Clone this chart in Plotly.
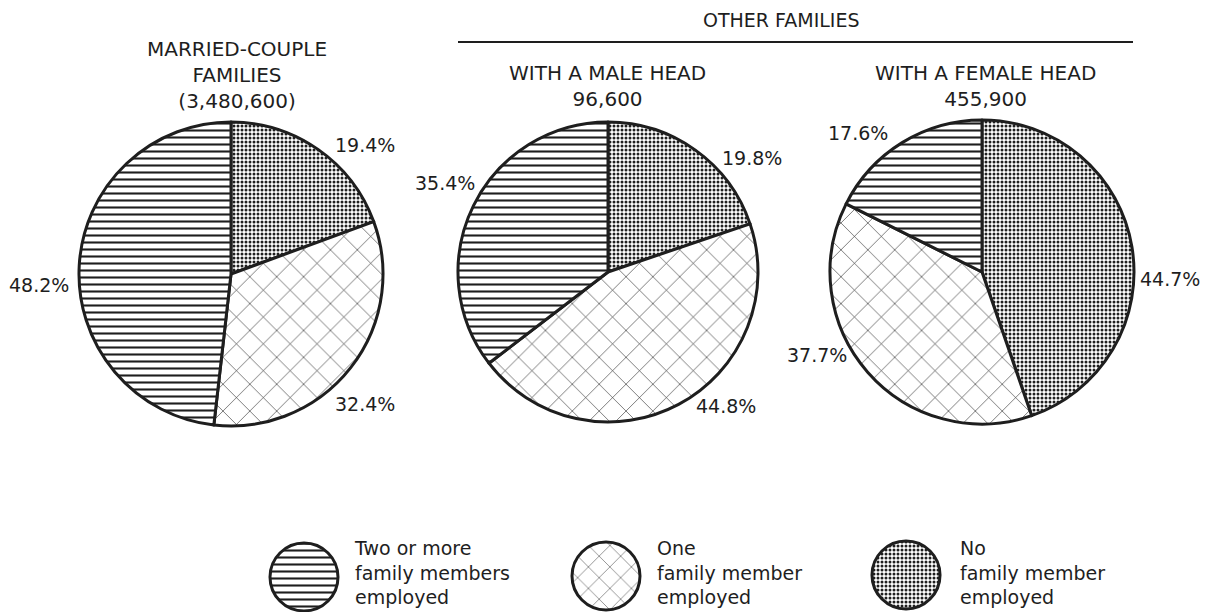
import plotly.graph_objects as go

# ---------------- data ----------------
group_titles = ["MARRIED-COUPLE<br>FAMILIES<br>(3,480,600)",
                "WITH A MALE HEAD<br>96,600",
                "WITH A FEMALE HEAD<br>455,900"]
header_text = "OTHER FAMILIES"
categories = ["No family member employed",
              "One family member employed",
              "Two or more family members employed"]
legend_labels = ["Two or more<br>family members<br>employed",
                 "One<br>family member<br>employed",
                 "No<br>family member<br>employed"]
pct_none = [19.4, 19.8, 44.7]
pct_one = [32.4, 44.8, 37.7]
pct_two_plus = [48.2, 35.4, 17.6]

# ---------------- styling / layout ----------------
W, H = 1212, 612
OFF = 8  # page body margin: screen pixel -> figure pixel
FONT = "DejaVu Sans"
INK = "#1e1e1e"
FS = 19

pattern_shape = {"No family member employed": ".",
                 "One family member employed": "x",
                 "Two or more family members employed": "-"}
pattern_size = {"No family member employed": 4,
                "One family member employed": 19,
                "Two or more family members employed": 7}
pattern_solid = {"No family member employed": 0.45,
                 "One family member employed": 0.06,
                 "Two or more family members employed": 0.3}


def px(x):
    return (x - OFF) / W


def py(y):
    return 1 - (y - OFF) / H


def dom(cx, cy, r):
    return dict(x=[px(cx - r), px(cx + r)], y=[py(cy + r), py(cy - r)])


pie_geom = [(231, 274, 152), (608, 272, 150), (982, 272, 152)]
# label anchor centres (screen px) for [none, one, two_plus] of each pie
label_pos = [
    [(365, 145), (365, 404), (39, 285)],
    [(752, 158), (726, 406), (445, 183)],
    [(1170, 279), (817, 355), (858, 133)],
]

fig = go.Figure()
for i, (cx, cy, r) in enumerate(pie_geom):
    vals = [pct_none[i], pct_one[i], pct_two_plus[i]]
    fig.add_trace(go.Pie(
        labels=categories,
        values=vals,
        sort=False,
        direction="clockwise",
        rotation=0,
        domain=dom(cx, cy, r),
        textinfo="none",
        marker=dict(
            colors=["white"] * 3,
            line=dict(color=INK, width=3),
            pattern=dict(
                shape=[pattern_shape[c] for c in categories],
                size=[pattern_size[c] for c in categories],
                solidity=[pattern_solid[c] for c in categories],
                fgcolor=INK,
                bgcolor="white",
                fillmode="replace",
            ),
        ),
        showlegend=False,
        hoverinfo="label+percent",
    ))
    for v, (lx, ly) in zip(vals, label_pos[i]):
        fig.add_annotation(x=px(lx), y=py(ly), xref="paper", yref="paper",
                           text=f"{v:.1f}%", showarrow=False,
                           xanchor="center", yanchor="middle",
                           font=dict(family=FONT, size=FS, color=INK))

# legend swatches as tiny pies
legend_order = ["Two or more family members employed",
                "One family member employed",
                "No family member employed"]
legend_geom = [(304, 577, 34), (606, 576, 34), (906, 575, 34)]
legend_text_x = [352, 655, 958]
for j, (cx, cy, r) in enumerate(legend_geom):
    c = legend_order[j]
    fig.add_trace(go.Pie(
        labels=[c], values=[1], sort=False,
        domain=dom(cx, cy, r),
        textinfo="none",
        marker=dict(colors=["white"], line=dict(color=INK, width=3),
                    pattern=dict(shape=[pattern_shape[c]],
                                 size=[pattern_size[c] * (0.8 if pattern_shape[c] == "x" else 1)],
                                 solidity=[pattern_solid[c]],
                                 fgcolor=INK, bgcolor="white")),
        showlegend=False, hoverinfo="label",
    ))
    fig.add_annotation(x=px(legend_text_x[j]), y=py(572), xref="paper", yref="paper",
                       text=legend_labels[j], showarrow=False, xanchor="left",
                       yanchor="middle", align="left",
                       font=dict(family=FONT, size=FS, color=INK))

# titles
title_pos = [(237, 75), (607, 86), (985, 86)]
for t, (x, y) in zip(group_titles, title_pos):
    fig.add_annotation(x=px(x), y=py(y), xref="paper", yref="paper", text=t,
                       showarrow=False, xanchor="center", yanchor="middle",
                       align="center", font=dict(family=FONT, size=20, color=INK))

fig.add_annotation(x=px(781), y=py(20), xref="paper", yref="paper", text=header_text,
                   showarrow=False, xanchor="center", yanchor="middle",
                   font=dict(family=FONT, size=FS, color=INK))
fig.add_shape(type="line", xref="paper", yref="paper",
              x0=px(458), x1=px(1133), y0=py(42), y1=py(42),
              line=dict(color=INK, width=2))

fig.update_layout(width=W, height=H, margin=dict(l=0, r=0, t=0, b=0),
                  paper_bgcolor="white", plot_bgcolor="white",
                  font=dict(family=FONT, size=FS, color=INK))
fig.write_html("out.html")
